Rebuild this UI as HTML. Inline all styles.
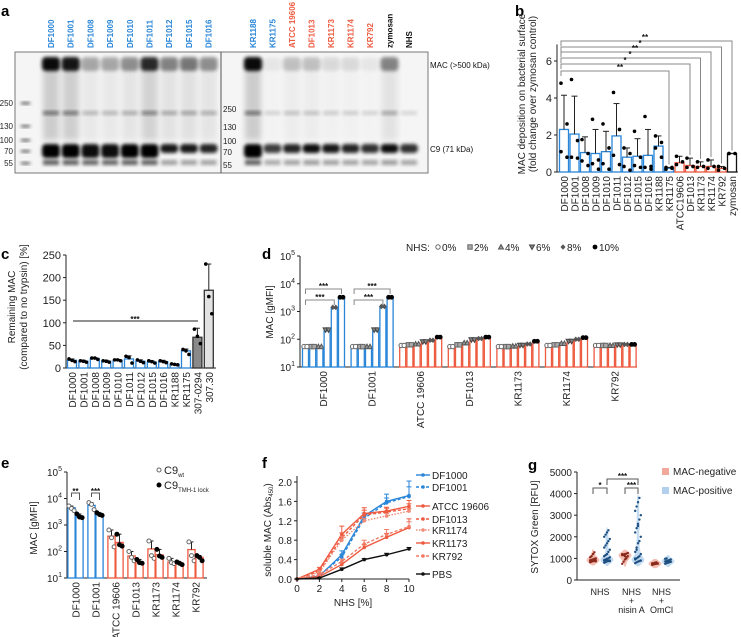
<!DOCTYPE html>
<html><head><meta charset="utf-8">
<style>
html,body{margin:0;padding:0;background:#fff;}
svg{display:block;font-family:"Liberation Sans",Arial,sans-serif;}
</style></head>
<body>
<svg id="fig" width="741" height="637" viewBox="0 0 741 637" xmlns="http://www.w3.org/2000/svg">
<defs>
<filter id="blur1" x="-50%" y="-50%" width="200%" height="200%"><feGaussianBlur stdDeviation="1.8"/></filter>
<filter id="blur2" x="-50%" y="-50%" width="200%" height="200%"><feGaussianBlur stdDeviation="3"/></filter>
</defs>
</svg>
<script>
// ---------- DATA ----------
// panel a (blot)
const laneLeft = ["DF1000","DF1001","DF1008","DF1009","DF1010","DF1011","DF1012","DF1015","DF1016"];
const laneRight = ["KR1188","KR1175","ATCC 19606","DF1013","KR1173","KR1174","KR792","zymosan","NHS"];
const laneRightColor = ["b","b","r","r","r","r","r","k","k"];
const macLeft = [1,0.95,0.3,0.3,0.4,0.85,0.45,0.5,0.4];
const macRight = [1,0.05,0.2,0.2,0.1,0.1,0.05,0.45,0];
const c9Left = [1,1,0.95,0.95,1,1,0.9,0.9,0.85];
const c9Right = [1,0.75,0.85,0.95,0.9,0.85,0.8,0.95,0.8];
const markerLabels = ["250","130","100","70","55"];
// panel b
const bCats = ["DF1000","DF1001","DF1008","DF1009","DF1010","DF1011","DF1012","DF1015","DF1016","KR1188","KR1175","ATCC19606","DF1013","KR1173","KR1174","KR792","zymosan"];
const bColor = ["b","b","b","b","b","b","b","b","b","b","b","r","r","r","r","r","k"];
const bMeans = [2.3,2.05,1.05,1.0,1.1,1.95,0.8,0.85,0.9,1.4,0.2,0.5,0.35,0.3,0.3,0.2,1.0];
const bErr = [4.15,4.1,1.9,2.3,2.2,3.7,1.3,1.8,2.3,1.95,0.25,0.85,0.75,0.55,0.65,0.3,1.0];
const bPts = [[4.8,2.6,1.1,0.8],[5.0,1.7,0.8,0.75],[1.75,1.0,0.6,0.35],[2.85,0.65,0.45,0.15],[2.6,1.3,0.45,0.15],[4.3,2.3,0.9,0.4],[1.3,1.0,0.3,0.1],[2.2,0.8,0.35,0.25],[3.0,0.3,0.25,0.15],[1.95,1.6,1.3,0.8],[0.25,0.2,0.15,0.25],[0.85,0.55,0.4],[0.75,0.3,0.25],[0.55,0.3,0.25],[0.65,0.3,0.2],[0.3,0.2,0.1],[1.0,1.0,1.0]];
const bTicks = [0,2,4,6];
const bSig = ["**","*","**","*","*","**"];
const bSigTarget = [16,15,14,13,12,10];
// panel c
const cCats = ["DF1000","DF1001","DF1008","DF1009","DF1010","DF1011","DF1012","DF1015","DF1016","KR1188","KR1175","307-0294","307.30"];
const cMeans = [17,15,21,15,17,20,15,13,14,8,38,68,172];
const cErr = [20,17,23,17,19,27,18,16,17,9,42,88,230];
const cPts = [[20,17,14],[16,15,13],[22,22,19],[16,15,13],[18,18,16],[26,23,11],[18,15,12],[16,14,11],[16,14,12],[9,8,7],[41,38,30],[86,70,54],[230,158,120]];
const cTicks = [0,50,100,150,200,250];
// panel d
const dGroups = ["DF1000","DF1001","ATCC 19606","DF1013","KR1173","KR1174","KR792"];
const dColor = ["b","b","r","r","r","r","r"];
const nhsLevels = ["0%","2%","4%","6%","8%","10%"];
const dVals = [[50,50,50,200,1300,3000],[50,50,50,200,1400,3000],[55,58,62,75,85,110],[50,58,68,88,98,110],[50,50,52,56,62,78],[55,58,65,78,92,105],[55,55,55,58,60,60]];
const dTicks = [1,2,3,4,5];
// panel e
const eGroups = ["DF1000","DF1001","ATCC 19606","DF1013","KR1173","KR1174","KR792"];
const eColor = ["b","b","r","r","r","r","r"];
const eWt = [4500,5500,380,68,125,40,118];
const eLock = [2000,2450,220,40,75,35,60];
const eWtPts = [[5200,4200,3500],[7000,6000,3800],[650,330,150],[100,60,45],[250,70,55],[55,38,35],[230,70,45]];
const eLockPts = [[2600,2000,1900],[2900,2500,2300],[450,180,160],[50,38,36],[120,68,60],[40,36,32],[70,60,45]];
const eTicks = [1,2,3,4,5];
// panel f
const fX = [0,2,4,6,8,10];
const fNames = ["DF1000","DF1001","ATCC 19606","DF1013","KR1174","KR1173","KR792","PBS"];
const fVals = [
 [0,0.06,0.5,1.3,1.6,1.72],
 [0,0.08,0.45,1.25,1.57,1.7],
 [0,0.2,0.92,1.35,1.4,1.5],
 [0,0.16,0.85,1.32,1.38,1.45],
 [0,0.14,0.8,1.2,1.3,1.4],
 [0,0.05,0.3,0.65,0.86,1.06],
 [0,0.09,0.36,0.72,0.92,1.08],
 [0,0.02,0.2,0.4,0.5,0.62]];
const fErr = [[0,0.02,0.08,0.06,0.15,0.3],[0,0.02,0.05,0.05,0.1,0.2],[0,0.04,0.17,0.12,0.08,0.12],[0,0.03,0.1,0.1,0.08,0.1],[0,0.03,0.08,0.05,0.05,0.05],[0,0.02,0.04,0.06,0.08,0.18],[0,0.02,0.05,0.08,0.1,0.1],[0,0.01,0.03,0.02,0.03,0.03]];
const fTicksY = [0,0.4,0.8,1.2,1.6,2.0];
// panel g
const gGroups = ["NHS","NHS + nisin A","NHS + OmCl"];
const gNeg = [[820,850,870,880,900,910,930,950,980,1000,1050,1100,1200,1280,860,890],[750,850,950,1050,1100,1150,1180,1200,1220,1250,1200,1150,1100,1000],[700,720,740,750,760,770,780,800,820,760,740]];
const gPos = [[800,830,860,880,900,920,950,980,1000,1050,1100,1150,1200,1300,1400,1500,1600,1700,1800,1900,2000,2100,2200,2300,870,900,930,960,1000],[780,820,850,880,900,950,1000,1050,1100,1200,1300,1500,1700,1800,2000,2200,2400,2600,2800,3000,3200,3400,3600,3800,900,1000,1400,2500],[750,780,800,820,840,860,880,900,920,950,980,1000,820,860]];
const gTicks = [0,1000,2000,3000,4000,5000];

// ---------- HELPERS ----------
const NS = "http://www.w3.org/2000/svg";
const svg = document.getElementById("fig");
function mk(tag, attrs, parent) {
  const e = document.createElementNS(NS, tag);
  for (const k in attrs) e.setAttribute(k, attrs[k]);
  (parent || svg).appendChild(e);
  return e;
}
function tx(x, y, s, size, anchor, fill, weight, rot) {
  const e = mk("text", {x: x, y: y, "font-size": size, "text-anchor": anchor || "start", fill: fill || "#111"});
  if (weight) e.setAttribute("font-weight", weight);
  if (rot) e.setAttribute("transform", "rotate(" + rot + " " + x + " " + y + ")");
  e.textContent = s;
  return e;
}
const BLUE = "#2a86d8", RED = "#ee5a3f";
function col(c) { return c === "b" ? BLUE : c === "r" ? RED : "#111"; }
function grp(name) {
  const g = mk("g", {});
  
  
  return g;
}
function label(x, y, s, name) {
  const t = tx(x, y, s, 15, "start", "#000", "bold");
  
  
}

// ---------- PANEL A ----------
label(1, 16, "a", "panel-a-label");
(function () {
  const g = grp("western-blot");
  const bg = mk("rect", {x: 15, y: 52, width: 413, height: 121, fill: "#f5f5f5", stroke: "#777", "stroke-width": 1}, g);
  
  
  const leftX = laneLeft.map((_, i) => 51 + i * 19.7);
  const rightX = laneRight.map((_, i) => 253 + i * 19.5);
  function lane(x, mac, c9, gg, big) {
    if (mac > 0.02) {
      mk("rect", {x: x - 8, y: 60, width: 16, height: 80, fill: "#000", opacity: mac * 0.16, filter: "url(#blur2)"}, gg);
      mk("rect", {x: x - 9, y: 57, width: 18, height: 14, rx: 4, fill: "#000", opacity: Math.min(1, mac * 0.95), filter: "url(#blur1)"}, gg);
    }
    mk("rect", {x: x - 8, y: 111, width: 16, height: 4, fill: "#000", opacity: 0.12 + mac * 0.35, filter: "url(#blur1)"}, gg);
    mk("rect", {x: x - 9, y: 144, width: 18, height: big ? 14 : 9, rx: 4, fill: "#000", opacity: c9, filter: "url(#blur1)"}, gg);
    mk("rect", {x: x - 8, y: 160, width: 16, height: 5, fill: "#000", opacity: 0.12 + c9 * 0.25 * (big ? 2 : 1), filter: "url(#blur1)"}, gg);
  }
  laneLeft.forEach((n, i) => {
    lane(leftX[i], macLeft[i], c9Left[i], g, i < 7 && i !== 6);
    const t = tx(leftX[i] + 3, 48, n, 8, "start", BLUE, "bold", -90);
    
    
  });
  laneRight.forEach((n, i) => {
    lane(rightX[i], macRight[i], c9Right[i], g, i === 0);
    const t = tx(rightX[i] + 3, 48, n, 8, "start", col(laneRightColor[i]), "bold", -90);
    
    
  });
  const div = mk("line", {x1: 221, y1: 52, x2: 221, y2: 173, stroke: "#555", "stroke-width": 1}, g);
  
  
  const mkY = [103, 126, 140, 151, 163];
  const mkY2 = [109, 127, 141, 152, 165];
  markerLabels.forEach((m, i) => {
    mk("rect", {x: 21, y: mkY[i] - 1, width: 9, height: 2.5, fill: "#555", filter: "url(#blur1)"}, g);
    const t = tx(13, mkY[i] + 3, m, 8, "end", "#222");
    
    
    const t2 = tx(223, mkY2[i] + 3, m, 8, "start", "#222");
    
    
  });
  const l1 = tx(430, 68, "MAC (>500 kDa)", 8, "start", "#111");
  
  
  const l2 = tx(430, 152, "C9 (71 kDa)", 8, "start", "#111");
  
  
})();

// ---------- PANEL B ----------
label(515, 16, "b", "panel-b-label");
(function () {
  const g = grp("chart-b");
  const ax = 557, y0 = 172, k = 18.5;
  const yS = v => y0 - v * k;
  const xS = i => 564 + i * 10.5;
  mk("line", {x1: ax, y1: yS(6.9), x2: ax, y2: y0, stroke: "#222"}, g);
  mk("line", {x1: ax, y1: y0, x2: 738, y2: y0, stroke: "#222"}, g);
  bTicks.forEach(t => {
    mk("line", {x1: ax - 3, y1: yS(t), x2: ax, y2: yS(t), stroke: "#222"}, g);
    const e = tx(ax - 5, yS(t) + 4, String(t), 11, "end", "#222");
    
    
  });
  const yl = tx(525, 94, "MAC deposition on bacterial surface", 10, "middle", "#222", null, -90);
  
  
  const yl2 = tx(536, 94, "(fold change over zymosan control)", 10, "middle", "#222", null, -90);
  
  
  bCats.forEach((c, i) => {
    const x = xS(i), cc = col(bColor[i]);
    const bar = mk("rect", {x: x - 4.5, y: yS(bMeans[i]), width: 9, height: bMeans[i] * k, fill: "#fff", stroke: cc, "stroke-width": 1.3}, g);
    
    
    mk("line", {x1: x, y1: yS(bMeans[i]), x2: x, y2: yS(bErr[i]), stroke: "#222"}, g);
    mk("line", {x1: x - 3, y1: yS(bErr[i]), x2: x + 3, y2: yS(bErr[i]), stroke: "#222"}, g);
    bPts[i].forEach((p, j) => {
      const d = mk("circle", {cx: x + (j % 2 ? 3 : -3), cy: yS(p), r: 1.8, fill: "#000"}, g);
      
      
    });
    const t = tx(x + 4, y0 + 4, c, 10, "end", "#222", null, -90);
    
    
  });
  const bY = [41, 47, 52, 58, 64, 71];
  bSig.forEach((s, i) => {
    const tx2 = xS(bSigTarget[i]);
    mk("polyline", {points: `${ax + 4},${bY[i] + 5} ${ax + 4},${bY[i]} ${tx2},${bY[i]} ${tx2},${yS(bErr[bSigTarget[i]]) - 3}`, fill: "none", stroke: "#888", "stroke-width": 1}, g);
    const t = tx(645 - i * 5, bY[i] - 1, s, 8, "middle", "#111", "bold");
    
    
  });
})();

// ---------- PANEL C ----------
label(1, 259, "c", "panel-c-label");
(function () {
  const g = grp("chart-c");
  const ax = 66, y0 = 368, k = 0.452;
  const yS = v => y0 - v * k;
  const xS = i => 72 + i * 11.4;
  mk("line", {x1: ax, y1: yS(250), x2: ax, y2: y0, stroke: "#222"}, g);
  mk("line", {x1: ax, y1: y0, x2: 216, y2: y0, stroke: "#222"}, g);
  cTicks.forEach(t => {
    mk("line", {x1: ax - 3, y1: yS(t), x2: ax, y2: yS(t), stroke: "#222"}, g);
    const e = tx(ax - 5, yS(t) + 4, String(t), 11, "end", "#222");
    
    
  });
  const yl = tx(15, 307, "Remaining MAC", 10, "middle", "#222", null, -90);
  
  
  const yl2 = tx(27, 307, "(compared to no trypsin) [%]", 10, "middle", "#222", null, -90);
  
  
  cCats.forEach((c, i) => {
    const x = xS(i);
    let fill = "#fff", st = BLUE;
    if (i === 11) { fill = "#8a8a8a"; st = "#333"; }
    if (i === 12) { fill = "#e2e2e2"; st = "#333"; }
    const bar = mk("rect", {x: x - 4.5, y: yS(cMeans[i]), width: 9, height: cMeans[i] * k, fill: fill, stroke: st, "stroke-width": 1.3}, g);
    
    
    mk("line", {x1: x, y1: yS(cMeans[i]), x2: x, y2: yS(cErr[i]), stroke: "#222"}, g);
    mk("line", {x1: x - 2.5, y1: yS(cErr[i]), x2: x + 2.5, y2: yS(cErr[i]), stroke: "#222"}, g);
    cPts[i].forEach((p, j) => {
      const d = mk("circle", {cx: x + (j - 1) * 3, cy: yS(p), r: 1.8, fill: "#000"}, g);
      
      
    });
    const t = tx(x + 4, y0 + 4, c, 10, "end", "#222", null, -90);
    
    
  });
  mk("line", {x1: 73, y1: 321, x2: 198, y2: 321, stroke: "#222"}, g);
  const s = tx(135, 322, "***", 8, "middle", "#111", "bold");
  
  
})();

// ---------- PANEL D ----------
label(262, 259, "d", "panel-d-label");
(function () {
  const g = grp("chart-d");
  const ax = 300, y0 = 367, k = 27.75;
  const yS = v => y0 - (Math.log10(v) - 1) * k;
  const gx = gi => 302 + gi * 48.6;
  const bx = (gi, i) => gx(gi) + 3.5 + i * 7.2;
  mk("line", {x1: ax, y1: 256, x2: ax, y2: y0, stroke: "#222"}, g);
  mk("line", {x1: ax, y1: y0, x2: 637, y2: y0, stroke: "#222"}, g);
  dTicks.forEach(t => {
    const y = y0 - (t - 1) * k;
    mk("line", {x1: ax - 3, y1: y, x2: ax, y2: y, stroke: "#222"}, g);
    const e = mk("text", {x: ax - 5, y: y + 4, "font-size": 10, "text-anchor": "end", fill: "#222"}, g);
    
    
    e.innerHTML = '10<tspan font-size="7" dy="-5">' + t + '</tspan>';
  });
  const yl = tx(273, 312, "MAC [gMFI]", 10, "middle", "#222", null, -90);
  
  
  const shapes = ["o", "s", "^", "v", "d", "c"];
  function marker(x, y, s, parent) {
    let e;
    if (s === "o") e = mk("circle", {cx: x, cy: y, r: 2.2, fill: "#fff", stroke: "#666"}, parent);
    else if (s === "s") e = mk("rect", {x: x - 2.2, y: y - 2.2, width: 4.4, height: 4.4, fill: "#aaa", stroke: "#666"}, parent);
    else if (s === "^") e = mk("polygon", {points: `${x},${y - 2.5} ${x - 2.5},${y + 2} ${x + 2.5},${y + 2}`, fill: "#999", stroke: "#555"}, parent);
    else if (s === "v") e = mk("polygon", {points: `${x},${y + 2.5} ${x - 2.5},${y - 2} ${x + 2.5},${y - 2}`, fill: "#888", stroke: "#444"}, parent);
    else if (s === "d") e = mk("polygon", {points: `${x},${y - 2.8} ${x + 2.5},${y} ${x},${y + 2.8} ${x - 2.5},${y}`, fill: "#555"}, parent);
    else e = mk("circle", {cx: x, cy: y, r: 2.4, fill: "#000"}, parent);
    return e;
  }
  dGroups.forEach((name, gi) => {
    const cc = col(dColor[gi]);
    dVals[gi].forEach((v, i) => {
      const x = bx(gi, i);
      const bar = mk("rect", {x: x - 3, y: yS(v), width: 6, height: y0 - yS(v), fill: "#fff", stroke: cc, "stroke-width": 1.3}, g);
      
      
      for (let j = 0; j < 2; j++) {
        const m = marker(x - 1.5 + j * 3, yS(v) - 1, shapes[i], g);
        
        
      }
    });
    const t = tx(gx(gi) + 25, y0 + 4, name, 10, "end", "#222", null, -90);
    
    
  });
  [0, 1].forEach(gi => {
    const xa = bx(gi, 0);
    [[4, 300], [5, 289]].forEach(([bi, yy]) => {
      const xb = bx(gi, bi);
      mk("polyline", {points: `${xa},${yy + 5} ${xa},${yy} ${xb},${yy} ${xb},${yy + 5}`, fill: "none", stroke: "#888"}, g);
      const s = tx((xa + xb) / 2, yy, "***", 8, "middle", "#111", "bold");
      
      
    });
  });
  const lg = grp("d-legend");
  const lt = tx(406, 251, "NHS:", 10, "start", "#222", null, 0);
  lg.appendChild(lt);
  
  
  const lx = [438, 470, 501, 532, 563, 595];
  nhsLevels.forEach((l, i) => {
    const m = marker(lx[i], 247, shapes[i], lg);
    
    
    const t = tx(lx[i] + 4, 251, l, 10, "start", "#222");
    lg.appendChild(t);
    
    
  });
})();

// ---------- PANEL E ----------
label(1, 468, "e", "panel-e-label");
(function () {
  const g = grp("chart-e");
  const ax = 67, y0 = 578, k = 26.5;
  const yS = v => y0 - (Math.log10(v) - 1) * k;
  const gc = gi => 75.5 + gi * 20;
  mk("line", {x1: ax, y1: 472, x2: ax, y2: y0, stroke: "#222"}, g);
  mk("line", {x1: ax, y1: y0, x2: 207, y2: y0, stroke: "#222"}, g);
  eTicks.forEach(t => {
    const y = y0 - (t - 1) * k;
    mk("line", {x1: ax - 3, y1: y, x2: ax, y2: y, stroke: "#222"}, g);
    const e = mk("text", {x: ax - 5, y: y + 4, "font-size": 10, "text-anchor": "end", fill: "#222"}, g);
    
    
    e.innerHTML = '10<tspan font-size="7" dy="-5">' + t + '</tspan>';
  });
  const yl = tx(37, 528, "MAC [gMFI]", 10, "middle", "#222", null, -90);
  
  
  eGroups.forEach((name, gi) => {
    const cc = col(eColor[gi]);
    const c = gc(gi);
    [[eWt, eWtPts, -4, "wt"], [eLock, eLockPts, 4, "lock"]].forEach(([vals, pts, off, kind]) => {
      const v = vals[gi], x = c + off;
      const bar = mk("rect", {x: x - 3.6, y: yS(v), width: 7.2, height: y0 - yS(v), fill: "#fff", stroke: cc, "stroke-width": 1.3}, g);
      
      
      const top = Math.max(...pts[gi]);
      mk("line", {x1: x, y1: yS(v), x2: x, y2: yS(top), stroke: "#222"}, g);
      mk("line", {x1: x - 2, y1: yS(top), x2: x + 2, y2: yS(top), stroke: "#222"}, g);
      pts[gi].forEach((p, j) => {
        const d = mk("circle", {cx: x + (j - 1) * 2.6, cy: yS(p), r: 2, fill: kind === "wt" ? "#fff" : "#000", stroke: kind === "wt" ? "#666" : "#000"}, g);
        
        
      });
    });
    const t = tx(c + 4, y0 + 4, name, 10, "end", "#222", null, -90);
    
    
  });
  [["**", 0], ["***", 1]].forEach(([s, gi]) => {
    const xa = gc(gi) - 4, xb = gc(gi) + 4;
    mk("polyline", {points: `${xa},${497} ${xa},${493} ${xb},${493} ${xb},${500}`, fill: "none", stroke: "#555"}, g);
    const t = tx(gc(gi), 494, s, 8, "middle", "#111", "bold");
    
    
  });
  const lg = grp("e-legend");
  mk("circle", {cx: 159, cy: 470, r: 2, fill: "#fff", stroke: "#666"}, lg);
  const t1 = mk("text", {x: 164, y: 474, "font-size": 11, fill: "#222"}, lg);
  t1.innerHTML = 'C9<tspan font-size="6" dy="3">wt</tspan>';
  
  
  mk("circle", {cx: 159, cy: 485, r: 2.5, fill: "#000"}, lg);
  const t2 = mk("text", {x: 164, y: 489, "font-size": 11, fill: "#222"}, lg);
  t2.innerHTML = 'C9<tspan font-size="6" dy="3">TMH-1 lock</tspan>';
  
  
})();

// ---------- PANEL F ----------
label(262, 468, "f", "panel-f-label");
(function () {
  const g = grp("chart-f");
  const x0 = 297, x1 = 409, y0 = 579, y2 = 482;
  const xS = v => x0 + v / 10 * (x1 - x0);
  const yS = v => y0 - v / 2 * (y0 - y2);
  mk("line", {x1: x0, y1: 476, x2: x0, y2: y0, stroke: "#222"}, g);
  mk("line", {x1: x0, y1: y0, x2: x1, y2: y0, stroke: "#222"}, g);
  fTicksY.forEach(t => {
    mk("line", {x1: x0 - 3, y1: yS(t), x2: x0, y2: yS(t), stroke: "#222"}, g);
    const e = tx(x0 - 5, yS(t) + 4, t.toFixed(1), 10, "end", "#222");
    
    
  });
  fX.forEach(t => {
    mk("line", {x1: xS(t), y1: y0, x2: xS(t), y2: y0 + 3, stroke: "#222"}, g);
    const e = tx(xS(t), y0 + 13, String(t), 10, "middle", "#222");
    
    
  });
  const xl = tx(353, 606, "NHS [%]", 10, "middle", "#222");
  
  
  const yl = mk("text", {x: 271, y: 530, "font-size": 10, "text-anchor": "middle", fill: "#222", transform: "rotate(-90 271 530)"}, g);
  yl.innerHTML = 'soluble MAC (Abs<tspan font-size="6" dy="2">450</tspan><tspan dy="-2">)</tspan>';
  
  
  const colors = [BLUE, BLUE, RED, RED, "#f08a76", RED, "#f07a64", "#111"];
  const dashes = ["", "3,2", "", "3,2", "1.5,1.5", "", "3,2", ""];
  const legY = [475, 487, 506, 519, 530, 543, 556, 574];
  fNames.forEach((n, si) => {
    const pts = fX.map((x, i) => xS(x) + "," + yS(fVals[si][i])).join(" ");
    const line = mk("polyline", {points: pts, fill: "none", stroke: colors[si], "stroke-width": 1.4, "stroke-dasharray": dashes[si]}, g);
    
    
    fX.forEach((x, i) => {
      const v = fVals[si][i], e = fErr[si][i];
      if (e > 0) {
        mk("line", {x1: xS(x), y1: yS(v), x2: xS(x), y2: yS(v + e), stroke: colors[si]}, g);
        mk("line", {x1: xS(x) - 2.5, y1: yS(v + e), x2: xS(x) + 2.5, y2: yS(v + e), stroke: colors[si]}, g);
      }
      const m = mk("circle", {cx: xS(x), cy: yS(v), r: 1.8, fill: colors[si]}, g);
      
      
    });
    mk("line", {x1: 416, y1: legY[si], x2: 430, y2: legY[si], stroke: colors[si], "stroke-width": 1.4, "stroke-dasharray": dashes[si]}, g);
    mk("circle", {cx: 423, cy: legY[si], r: 1.8, fill: colors[si]}, g);
    const t = tx(432, legY[si] + 4, n, 10, "start", "#222");
    
    
  });
})();

// ---------- PANEL G ----------
label(528, 470, "g", "panel-g-label");
(function () {
  const g = grp("chart-g");
  const ax = 577, y0 = 580, ytop = 472;
  const yS = v => y0 - v / 5000 * (y0 - ytop);
  const negX = [593, 625, 655], posX = [607, 638, 668];
  mk("line", {x1: ax, y1: ytop, x2: ax, y2: y0, stroke: "#222"}, g);
  mk("line", {x1: ax, y1: y0, x2: 680, y2: y0, stroke: "#222"}, g);
  gTicks.forEach(t => {
    mk("line", {x1: ax - 3, y1: yS(t), x2: ax, y2: yS(t), stroke: "#222"}, g);
    const e = tx(ax - 5, yS(t) + 4, String(t), 10, "end", "#222");
    
    
  });
  const yl = tx(538, 527, "SYTOX Green [RFU]", 10, "middle", "#222", null, -90);
  
  
  function violin(vals, cx, fill, dot, name) {
    const lo = Math.min(...vals) - 150, hi = Math.max(...vals) + 150;
    const bw = 120, steps = 30, L = [], R = [];
    let maxd = 0; const ds = [];
    for (let s = 0; s <= steps; s++) {
      const v = lo + (hi - lo) * s / steps;
      let d = 0; vals.forEach(p => { d += Math.exp(-0.5 * ((v - p) / bw) ** 2); });
      ds.push([v, d]); maxd = Math.max(maxd, d);
    }
    ds.forEach(([v, d]) => { const w = d / maxd * 6.5; L.push((cx - w) + "," + yS(v)); R.unshift((cx + w) + "," + yS(v)); });
    const vp = mk("polygon", {points: L.concat(R).join(" "), fill: fill, opacity: 0.85}, g);
    
    
    vals.forEach((p, j) => {
      const c = mk("circle", {cx: cx + ((j % 5) - 2) * 1.4, cy: yS(p), r: 1.2, fill: dot}, g);
      
      
    });
  }
  gGroups.forEach((n, i) => {
    violin(gNeg[i], negX[i], "#f2b3a8", "#8a2a1c", "violin-mac-negative-" + i);
    violin(gPos[i], posX[i], "#b9d5ef", "#1d4f80", "violin-mac-positive-" + i);
    const cx = (negX[i] + posX[i]) / 2;
    n.split(" + ").forEach((part, j) => {
      const lines = j === 0 ? [part] : ["+", part];
      lines.forEach((ln, k) => {
        const t = tx(cx, 595 + (j === 0 ? 0 : (k + 1) * 9), ln, 9, "middle", "#222");
        
        
      });
    });
  });
  [[negX[0], posX[0], 488, "*"], [negX[1], posX[1], 488, "***"], [posX[0], posX[1], 479, "***"]].forEach(([a, b, y, s]) => {
    mk("polyline", {points: `${a},${y + 6} ${a},${y} ${b},${y} ${b},${y + 6}`, fill: "none", stroke: "#555"}, g);
    const t = tx((a + b) / 2, y, s, 8, "middle", "#111", "bold");
    
    
  });
  const lg = grp("g-legend");
  const r1 = mk("rect", {x: 662, y: 468, width: 7, height: 7, fill: "#f2a89b"}, lg);
  
  
  const t1 = tx(673, 475, "MAC-negative", 10, "start", "#222");
  lg.appendChild(t1);
  
  
  const r2 = mk("rect", {x: 662, y: 487, width: 7, height: 7, fill: "#b3cfee"}, lg);
  
  
  const t2 = tx(673, 494, "MAC-positive", 10, "start", "#222");
  lg.appendChild(t2);
  
  
})();
</script>
</body></html>
